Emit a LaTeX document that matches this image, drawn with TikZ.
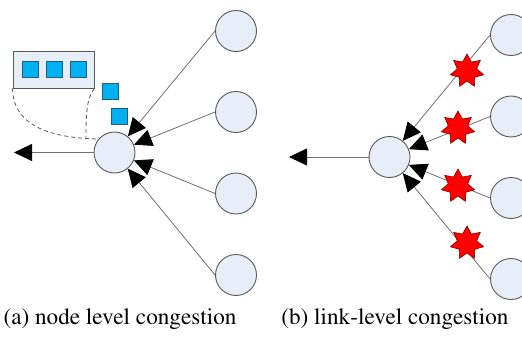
\documentclass[tikz,border=0pt]{standalone}
\usepackage[T1]{fontenc}
\usepackage{times}
\usetikzlibrary{arrows.meta,shapes.geometric}

\definecolor{nodefill}{HTML}{E8EEF8}
\definecolor{nodeline}{HTML}{595959}
\definecolor{linkgray}{HTML}{707070}
\definecolor{pktfill}{HTML}{00B0F0}
\definecolor{pktline}{HTML}{1F5F7A}
\definecolor{starline}{HTML}{7F0000}

\begin{document}
\begin{tikzpicture}[x=1pt,y=-1pt]
	\clip (0,0) rectangle (522,337);

	% (a) node level congestion
	\begin{scope}[every node/.style={circle,draw=nodeline,fill=nodefill,line width=0.9pt,minimum size=41pt,inner sep=0pt}]
	    \node (c1) at (114.5,152.5) {};
	    \node (p1) at (236,31) {};
	    \node (p2) at (236,112) {};
	    \node (p3) at (236,193.5) {};
	    \node (p4) at (236,275) {};
	\end{scope}
	\coordinate (out1) at (14,152.5);
	\coordinate (qjoin) at (86,138);

	% queue and packets
	\node[draw=nodeline,fill=nodefill,line width=0.9pt,minimum width=81pt,minimum height=37pt,inner sep=0pt] (queue) at (53.5,69.5) {};
	\begin{scope}[every node/.style={rectangle,draw=pktline,fill=pktfill,line width=0.7pt,minimum size=16pt,inner sep=0pt}]
	    \node (k1) at (30,69.5) {};
	    \node (k2) at (54,69.5) {};
	    \node (k3) at (78,69.5) {};
	    \node (k4) at (110.5,91.5) {};
	    \node (k5) at (119,116) {};
	\end{scope}

	\draw[nodeline,dash pattern=on 4pt off 3pt,line width=0.8pt]
	    (queue.south west) .. controls (13,128) and (55,138) .. (c1.140);
	\draw[nodeline,dash pattern=on 4pt off 3pt,line width=0.8pt]
	    (queue.south east) .. controls (86,98) and (86,118) .. (qjoin);

	% (b) link-level congestion
	\begin{scope}[every node/.style={circle,draw=nodeline,fill=nodefill,line width=0.9pt,minimum size=41pt,inner sep=0pt}]
	    \node (c2) at (389.5,157) {};
	    \node (q1) at (511,35) {};
	    \node (q2) at (511,116.5) {};
	    \node (q3) at (511,198) {};
	    \node (q4) at (511,279) {};
	\end{scope}
	\coordinate (out2) at (289,157);

	\begin{scope}[every edge/.style={draw=linkgray,line width=0.8pt,
	                  -{Triangle[black,length=18pt,width=17pt]}}]
	    \path (p1.west) edge (c1);
	    \path (p2.west) edge (c1);
	    \path (p3.west) edge (c1);
	    \path (p4.west) edge (c1);
	    \path (c1) edge (out1);
	    \path (q1.west) edge (c2);
	    \path (q2.west) edge (c2);
	    \path (q3.west) edge (c2);
	    \path (q4.west) edge (c2);
	    \path (c2) edge (out2);
	\end{scope}

	\begin{scope}[every node/.style={star,star points=7,star point ratio=1.7,minimum size=34pt,inner sep=0pt,fill=red,draw=starline,line width=0.6pt}]
	    \node (s1) at (467,71) {};
	    \node (s2) at (458,128) {};
	    \node (s3) at (458,186) {};
	    \node (s4) at (467,243) {};
	\end{scope}

	% captions
	\begin{scope}[every node/.style={anchor=base,inner sep=0pt,font=\fontsize{23.2}{28}\selectfont}]
	    \node (capa) at (120,324) {(a) node level congestion};
	    \node (capb) at (395,324) {(b) link-level congestion};
	\end{scope}
\end{tikzpicture}
\end{document}
